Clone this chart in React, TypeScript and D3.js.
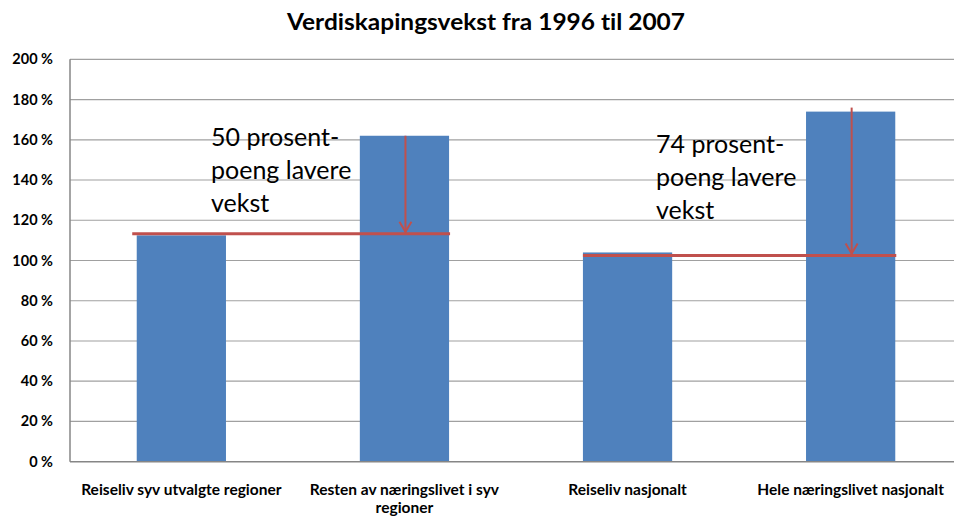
import React from "react";
import * as d3 from "d3";

const title = "Verdiskapingsvekst fra 1996 til 2007";
const categories = [
  ["Reiseliv syv utvalgte regioner"],
  ["Resten av næringslivet i syv", "regioner"],
  ["Reiseliv nasjonalt"],
  ["Hele næringslivet nasjonalt"],
];
const values = [112.5, 162, 104, 174];
const yTicks = [0, 20, 40, 60, 80, 100, 120, 140, 160, 180, 200];
const refLines = [
  { value: 113.3, fromIdx: 0, toIdx: 1, arrowIdx: 1, arrowTop: 162, label: ["50 prosent-", "poeng lavere", "vekst"] },
  { value: 102.5, fromIdx: 2, toIdx: 3, arrowIdx: 3, arrowTop: 176, label: ["74 prosent-", "poeng lavere", "vekst"] },
];

const W = 954;
const H = 517;

export default function App() {
  const keys = categories.map((c) => c.join(" "));
  const x = d3.scaleBand<string>().domain(keys).range([69.8, 962.2]).paddingInner(0.6).paddingOuter(0.3);
  const y = d3.scaleLinear().domain([0, 200]).range([461.7, 59.3]);
  const bw = x.bandwidth();
  const font = "Lato, 'Open Sans', sans-serif";
  const labelPos = [
    { x: 211, y: 146 },
    { x: 656, y: 153 },
  ];
  return (
    <svg
      width={W}
      height={H}
      style={{ position: "absolute", left: 0, top: 0, background: "#fff", fontVariantLigatures: "none" }}
      fontFamily={font}
    >
      <text x={486} y={30} textAnchor="middle" fontSize={23} fontWeight="bold" fill="#000" textLength={398} lengthAdjust="spacingAndGlyphs">
        {title}
      </text>
      {yTicks.map((t) => (
        <g key={t}>
          {t > 0 && <line x1={70} x2={W} y1={y(t)} y2={y(t)} stroke="#a0a0a0" strokeWidth={1.2} />}
          <text x={53} y={y(t) + 5} textAnchor="end" fontSize={14.5} fontWeight="bold" fill="#000">
            {t} %
          </text>
        </g>
      ))}
      {values.map((v, i) => (
        <rect key={i} x={x(keys[i])} y={y(v)} width={bw} height={y(0) - y(v)} fill="#4F81BD" />
      ))}
      <line x1={70} x2={70} y1={y(200)} y2={y(0)} stroke="#868686" strokeWidth={1.5} />
      <line x1={70} x2={W} y1={y(0)} y2={y(0)} stroke="#868686" strokeWidth={1.5} />
      {categories.map((c, i) => (
        <text key={i} x={(x(keys[i]) as number) + bw / 2} y={495} textAnchor="middle" fontSize={15.5} fontWeight="bold" fill="#000">
          {c.map((line, j) => (
            <tspan key={j} x={(x(keys[i]) as number) + bw / 2} dy={j === 0 ? 0 : 18}>
              {line}
            </tspan>
          ))}
        </text>
      ))}
      {refLines.map((r, i) => {
        const x1 = (x(keys[r.fromIdx]) as number) - (i === 0 ? 4.5 : 0);
        const x2 = (x(keys[r.toIdx]) as number) + bw + 1;
        const ly = y(r.value);
        const ax = (x(keys[r.arrowIdx]) as number) + bw / 2 + 1;
        const ay1 = y(r.arrowTop);
        return (
          <g key={i}>
            <line x1={x1} x2={x2} y1={ly} y2={ly} stroke="#C0504D" strokeWidth={3} />
            <line x1={ax} x2={ax} y1={ay1} y2={ly - 1} stroke="#C0504D" strokeWidth={2} />
            <polyline
              points={`${ax - 6},${ly - 12} ${ax},${ly - 2} ${ax + 6},${ly - 12}`}
              fill="none"
              stroke="#C0504D"
              strokeWidth={2}
            />
            <text fontSize={25} fill="#000">
              {r.label.map((l, j) => (
                <tspan key={j} x={labelPos[i].x} y={labelPos[i].y + j * 33}>
                  {l}
                </tspan>
              ))}
            </text>
          </g>
        );
      })}
    </svg>
  );
}
